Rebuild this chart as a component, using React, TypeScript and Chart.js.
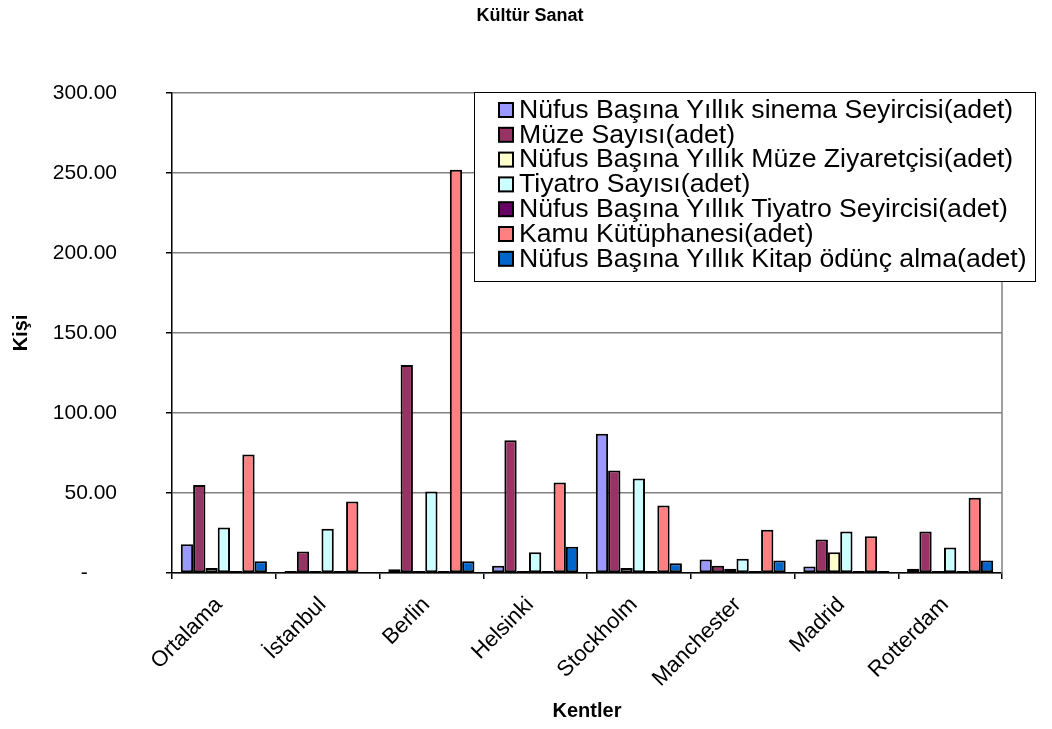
import React, { useEffect, useRef } from "react";
import { Chart, registerables } from "chart.js";

Chart.register(...registerables);

const categories = ["Ortalama", "İstanbul", "Berlin", "Helsinki", "Stockholm", "Manchester", "Madrid", "Rotterdam"];

const seriesNames = [
  "Nüfus Başına Yıllık sinema Seyircisi(adet)",
  "Müze Sayısı(adet)",
  "Nüfus Başına Yıllık Müze Ziyaretçisi(adet)",
  "Tiyatro Sayısı(adet)",
  "Nüfus Başına Yıllık Tiyatro Seyircisi(adet)",
  "Kamu Kütüphanesi(adet)",
  "Nüfus Başına Yıllık Kitap ödünç alma(adet)",
];

const sinemaSeyircisi = [18, 0.5, 2.3, 4.5, 87, 8.4, 4.1, 2.6];
const muzeSayisi = [55, 13.5, 130, 83, 64, 4.5, 21, 26];
const muzeZiyaretcisi = [3.1, 0.5, 1, 0.5, 3.2, 2.6, 13, 1];
const tiyatroSayisi = [28.5, 27.6, 51, 13, 59, 8.9, 26, 16];
const tiyatroSeyircisi = [0.8, 0.5, 0.5, 1, 1, 1, 0.5, 1];
const kamuKutuphanesi = [74, 44.7, 252, 56.6, 42.2, 27, 23, 47];
const kitapOduncAlma = [7.4, null, 7.4, 16.4, 6.1, 7.8, 0.2, 7.8];

const seriesValues = [
  sinemaSeyircisi,
  muzeSayisi,
  muzeZiyaretcisi,
  tiyatroSayisi,
  tiyatroSeyircisi,
  kamuKutuphanesi,
  kitapOduncAlma,
];

const seriesColors = ["#9999FF", "#993366", "#FFFFCC", "#CCFFFF", "#660066", "#FF8080", "#0066CC"];

const yTicks = [0, 50, 100, 150, 200, 250, 300];

const chartTitle = "Kültür Sanat";
const xTitle = "Kentler";
const yTitle = "Kişi";

const FONT = "'Liberation Sans', Arial, sans-serif";

const decorPlugin = {
  id: "decor",
  beforeDatasetsDraw(chart: any) {
    const { ctx, chartArea } = chart;
    ctx.save();
    ctx.strokeStyle = "#808080";
    ctx.lineWidth = 1.5;
    ctx.beginPath();
    ctx.moveTo(chartArea.right, chartArea.top);
    ctx.lineTo(chartArea.right, chartArea.bottom);
    ctx.stroke();
    ctx.restore();
  },
  afterDraw(chart: any) {
    const ctx = chart.ctx;
    ctx.save();
    // title
    ctx.fillStyle = "#000";
    ctx.font = `bold 18px ${FONT}`;
    ctx.textAlign = "center";
    ctx.textBaseline = "middle";
    ctx.fillText(chartTitle, 530, 16);

    // legend
    const bx = 474, by = 92, bw = 561, bh = 189;
    ctx.fillStyle = "#fff";
    ctx.fillRect(bx, by, bw, bh);
    ctx.strokeStyle = "#000";
    ctx.lineWidth = 1;
    ctx.strokeRect(bx + 0.5, by + 0.5, bw, bh);
    const rowH = 24.8;
    const firstY = 110;
    chart.data.datasets.forEach((ds: any, i: number) => {
      const cy = firstY + i * rowH;
      ctx.fillStyle = ds.backgroundColor;
      ctx.fillRect(499, cy - 7, 14, 14);
      ctx.strokeStyle = "#000";
      ctx.lineWidth = 2;
      ctx.strokeRect(499, cy - 7, 14, 14);
      ctx.save();
      ctx.translate(519, cy + 1);
      ctx.scale(1.065, 1);
      ctx.fillStyle = "#000";
      ctx.font = `25px ${FONT}`;
      ctx.textAlign = "left";
      ctx.textBaseline = "middle";
      ctx.fillText(ds.label, 0, 0);
      ctx.restore();
    });
    ctx.restore();
  },
};

export default function App() {
  const canvasRef = useRef<HTMLCanvasElement | null>(null);

  useEffect(() => {
    document.body.style.margin = "0";
    const canvas = canvasRef.current;
    if (!canvas) return;
    const chart = new Chart(canvas, {
      type: "bar",
      data: {
        labels: categories,
        datasets: seriesNames.map((name, i) => ({
          label: name,
          data: seriesValues[i],
          backgroundColor: seriesColors[i],
          borderColor: "#000",
          borderWidth: 2,
          borderSkipped: false,
          minBarLength: 2,
          categoryPercentage: 0.83,
          barPercentage: 1,
        })),
      },
      options: {
        responsive: false,
        animation: false,
        devicePixelRatio: 1,
        layout: { padding: { top: 93, right: 50, left: 0, bottom: 0 } },
        plugins: {
          legend: { display: false },
          title: { display: false },
          tooltip: { enabled: false },
        },
        scales: {
          x: {
            grid: { drawOnChartArea: false, drawTicks: true, tickLength: 6, tickColor: "#000", lineWidth: 1.5, offset: true },
            border: { color: "#000", width: 1.5 },
            ticks: {
              minRotation: 45,
              maxRotation: 45,
              autoSkip: false,
              color: "#000",
              font: { family: FONT, size: 22 },
              padding: 13,
              labelOffset: -5,
            },
            title: {
              display: true,
              text: xTitle,
              color: "#000",
              font: { family: FONT, size: 20, weight: "bold" },
              padding: { top: 4, bottom: 6 },
            },
            afterFit: (s: any) => {
              s.height = 156;
            },
          },
          y: {
            min: 0,
            max: 300,
            afterBuildTicks: (s: any) => {
              s.ticks = yTicks.map((v) => ({ value: v }));
            },
            ticks: {
              color: "#000",
              font: { family: FONT, size: 21 },
              padding: 49,
              callback: (v: any) => (Number(v) === 0 ? "-     " : Number(v).toFixed(2)),
            },
            grid: { color: "#808080", lineWidth: 1.5, tickColor: "#000", tickLength: 6 },
            border: { color: "#000", width: 1.5 },
            title: {
              display: true,
              text: yTitle,
              color: "#000",
              font: { family: FONT, size: 20, weight: "bold" },
              padding: { top: 9, bottom: 0 },
            },
            afterFit: (s: any) => {
              s.width = 172;
            },
          },
        },
      } as any,
      plugins: [decorPlugin],
    });
    return () => chart.destroy();
  }, []);

  return (
    <div style={{ width: 1052, height: 729 }}>
      <canvas ref={canvasRef} width={1052} height={729} style={{ display: "block" }} />
    </div>
  );
}
